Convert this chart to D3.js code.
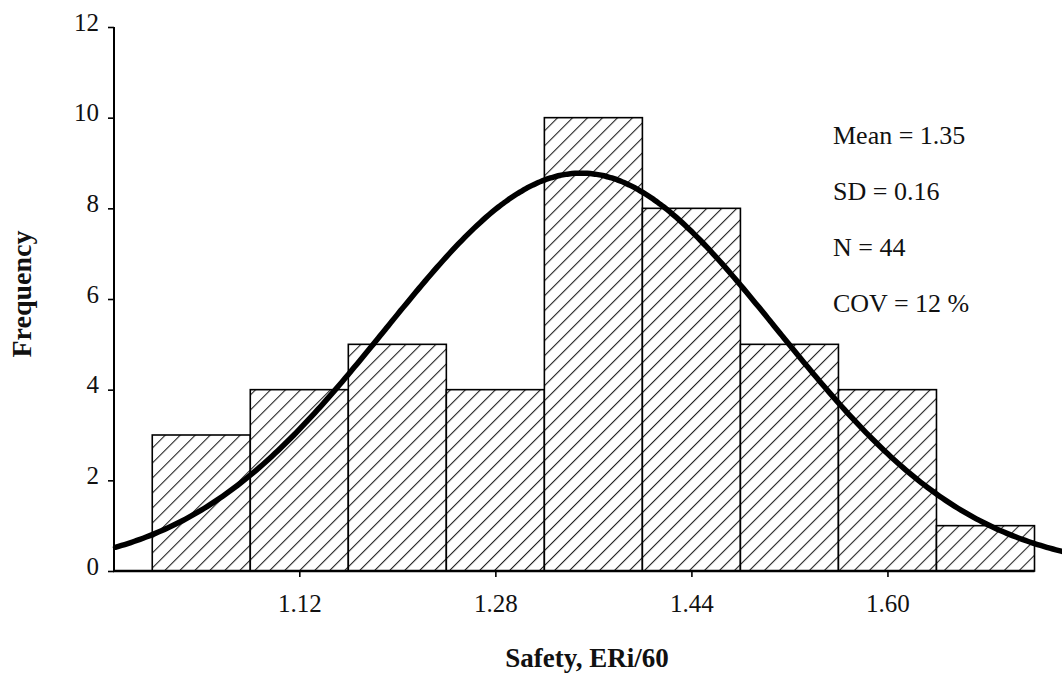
<!DOCTYPE html>
<html>
<head>
<meta charset="utf-8">
<script src="https://cdn.jsdelivr.net/npm/d3@7"></script>
<style>
  html, body { margin: 0; padding: 0; background: #fff; }
  svg { display: block; }
  text { font-family: "Liberation Serif", "Times New Roman", serif; fill: #111; }
</style>
</head>
<body>
<svg id="chart" width="1062" height="677"></svg>
<script>
// Histogram of safety ratios with a fitted normal curve
const binCenters = [1.04, 1.12, 1.20, 1.28, 1.36, 1.44, 1.52, 1.60, 1.68];
const frequencies = [3, 4, 5, 4, 10, 8, 5, 4, 1];
const binWidth = 0.08;
const xTickValues = [1.12, 1.28, 1.44, 1.60];
const yTickValues = [0, 2, 4, 6, 8, 10, 12];
const statMean = 1.35;
const statSD = 0.16;
const statN = 44;
const statCOV = 12;
const statLines = [
  "Mean = " + statMean.toFixed(2),
  "SD = " + statSD.toFixed(2),
  "N = " + statN,
  "COV = " + statCOV + " %"
];

const svg = d3.select("#chart");

const x = d3.scaleLinear().domain([0.97, 1.72]).range([115.5, 1034.5]);
const y = d3.scaleLinear().domain([0, 12]).range([571, 27]);

// diagonal hatch fill
const defs = svg.append("defs");
const pat = defs.append("pattern")
  .attr("id", "hatch")
  .attr("patternUnits", "userSpaceOnUse")
  .attr("width", 10.6).attr("height", 10.6)
  .attr("patternTransform", "rotate(45)");
pat.append("rect").attr("width", 10.6).attr("height", 10.6).attr("fill", "#fff");
pat.append("line")
  .attr("x1", 0.5).attr("y1", 0).attr("x2", 0.5).attr("y2", 10.6)
  .attr("stroke", "#222").attr("stroke-width", 1.15);

// bars
svg.append("g").selectAll("rect")
  .data(binCenters.map((c, i) => ({ c, f: frequencies[i] })))
  .join("rect")
  .attr("x", d => x(d.c - binWidth / 2))
  .attr("y", d => y(d.f))
  .attr("width", d => x(d.c + binWidth / 2) - x(d.c - binWidth / 2))
  .attr("height", d => y(0) - y(d.f))
  .attr("fill", "url(#hatch)")
  .attr("stroke", "#000")
  .attr("stroke-width", 1.6);

// normal curve scaled to counts per bin, from the stated mean, SD and N
const peak = statN * binWidth / (statSD * Math.sqrt(2 * Math.PI));
const curveX = d3.range(0.97, 1.7451, 0.0025);
const curve = d3.line()
  .x(v => x(v))
  .y(v => y(peak * Math.exp(-0.5 * Math.pow((v - statMean) / statSD, 2))))
  .curve(d3.curveBasis);
svg.append("path")
  .datum(curveX)
  .attr("d", curve)
  .attr("fill", "none")
  .attr("stroke", "#000")
  .attr("stroke-width", 5.5)
  .attr("stroke-linecap", "round");

// y axis
const yAxis = d3.axisLeft(y).tickValues(yTickValues).tickSize(6).tickPadding(9)
  .tickFormat(d3.format("d"));
const gy = svg.append("g").attr("transform", "translate(114,0)").call(yAxis);
gy.select(".domain").attr("stroke", "#000").attr("stroke-width", 2).attr("d", "M0,27V571");
gy.selectAll(".tick line").attr("stroke", "#000").attr("stroke-width", 1.6);
gy.selectAll(".tick text")
  .attr("font-family", "Liberation Serif, serif")
  .attr("font-size", 25).attr("dy", "0.12em").attr("fill", "#111");

// x axis
const xAxis = d3.axisBottom(x).tickValues(xTickValues).tickSize(6).tickPadding(17)
  .tickFormat(d3.format(".2f"));
const gx = svg.append("g").attr("transform", "translate(0,571)").call(xAxis);
gx.select(".domain").attr("stroke", "#000").attr("stroke-width", 2.5).attr("d", "M113,0H1034.5");
gx.selectAll(".tick line").attr("stroke", "#000").attr("stroke-width", 1.6);
gx.selectAll(".tick text")
  .attr("font-family", "Liberation Serif, serif")
  .attr("font-size", 25).attr("fill", "#111");

// axis titles
svg.append("text")
  .attr("x", 587).attr("y", 667)
  .attr("text-anchor", "middle")
  .attr("font-size", 27).attr("font-weight", "bold")
  .text("Safety, ERi/60");
svg.append("text")
  .attr("transform", "translate(31,294) rotate(-90)")
  .attr("text-anchor", "middle")
  .attr("font-size", 28).attr("font-weight", "bold")
  .text("Frequency");

// summary statistics
svg.append("g").selectAll("text")
  .data(statLines)
  .join("text")
  .attr("x", 833)
  .attr("y", (d, i) => 144 + i * 56)
  .attr("font-size", 26)
  .text(d => d);
</script>
</body>
</html>
